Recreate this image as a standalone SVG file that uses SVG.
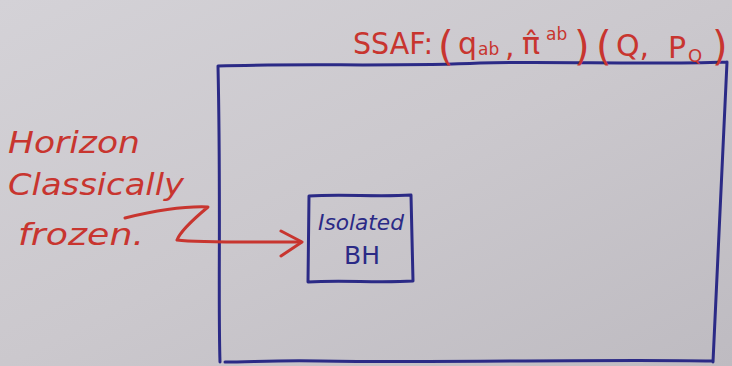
<svg xmlns="http://www.w3.org/2000/svg" width="732" height="366" viewBox="0 0 732 366">
<defs>
<linearGradient id="bg" x1="0" y1="0" x2="1" y2="1">
<stop offset="0" stop-color="#d4d2d7"/>
<stop offset="0.5" stop-color="#cbc8cd"/>
<stop offset="1" stop-color="#bebbc1"/>
</linearGradient>
<style>
.blue{fill:none;stroke:#2b2a86;stroke-width:3;stroke-linecap:round;stroke-linejoin:round}
.red{fill:none;stroke:#c8352f;stroke-width:3;stroke-linecap:round;stroke-linejoin:round}
.rt{fill:#c8352f;font-family:"DejaVu Sans","Liberation Sans",sans-serif}
.bt{fill:#2b2a86;font-family:"DejaVu Sans","Liberation Sans",sans-serif}
</style>
</defs>
<rect x="0" y="0" width="732" height="366" fill="url(#bg)"/>
<g id="system">
<path class="blue" d="M218,66 C300,63 400,67 480,63 C560,61 640,65 727,62 M727,62 L713,362 M713,361 C600,359 450,363 320,361 C280,360 250,362 225,362 M220,362 C218,300 221,200 218,66"/>
</g>
<g id="isolated-bh">
<path class="blue" d="M309,196 C340,194 380,197 411,195 L413,281 C380,283 340,280 308,282 Z"/>
<text class="bt" x="318" y="230" font-size="21" textLength="86" lengthAdjust="spacingAndGlyphs" font-style="italic">Isolated</text>
<text class="bt" x="362" y="264" font-size="25" text-anchor="middle">BH</text>
</g>
<g id="title">
<text class="rt" font-size="30" y="54"><tspan x="353" textLength="80" lengthAdjust="spacingAndGlyphs">SSAF:</tspan><tspan x="438" font-size="40" y="60">(</tspan><tspan x="458" y="54">q</tspan><tspan x="478" y="55" font-size="17">ab</tspan><tspan x="505" y="56">,</tspan><tspan x="522" y="54">π̂</tspan><tspan x="546" y="40" font-size="17">ab</tspan><tspan x="574" font-size="40" y="60">)</tspan><tspan x="596" font-size="40" y="60">(</tspan><tspan x="616" y="56">Q,</tspan><tspan x="668" y="58">P</tspan><tspan x="688" y="62" font-size="18">Q</tspan><tspan x="712" font-size="40" y="60">)</tspan></text>
</g>
<g id="horizon-label">
<text class="rt" font-size="30" font-style="italic"><tspan x="8" y="153" textLength="132" lengthAdjust="spacingAndGlyphs">Horizon</tspan><tspan x="8" y="195" textLength="176" lengthAdjust="spacingAndGlyphs">Classically</tspan><tspan x="18" y="245" textLength="126" lengthAdjust="spacingAndGlyphs">frozen.</tspan></text>
</g>
<g id="connectors">
<path class="red" d="M125,218 C150,212 185,206 208,207 C190,222 180,232 177,240 C200,243 250,242 301,242"/>
<path class="red" d="M281,231 L302,242 L281,256"/>
</g>
</svg>
